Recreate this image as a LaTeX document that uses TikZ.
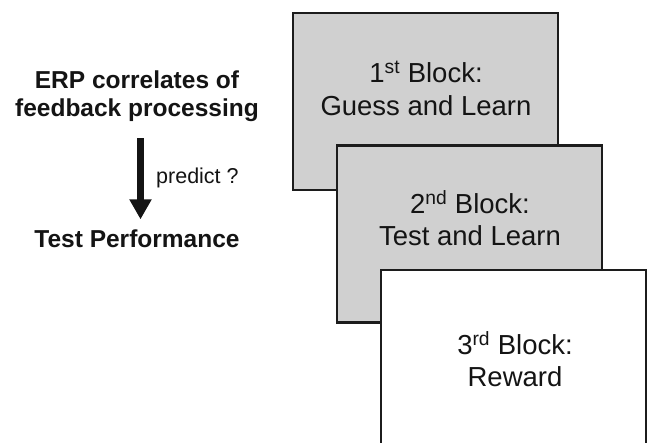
\documentclass[tikz,border=0pt]{standalone}
\usepackage{fontspec}
\setmainfont{Liberation Sans}
\usetikzlibrary{arrows.meta}
\definecolor{blockgray}{RGB}{208,208,208}
\definecolor{edgegray}{RGB}{28,28,28}
\definecolor{inkgray}{RGB}{20,20,20}
\tikzset{
  block/.style={draw=edgegray, line width=2.5pt, minimum width=265pt,
    minimum height=177pt, anchor=north west, inner sep=0pt, outer sep=0pt},
  blocktext/.style={font=\fontsize{27.5}{32.5}\selectfont, align=center,
    text=inkgray, inner sep=0pt},
  headline/.style={font=\bfseries\fontsize{24.5}{28}\selectfont, align=center,
    text=inkgray, inner sep=0pt},
  smalllabel/.style={font=\fontsize{21.5}{24}\selectfont, text=inkgray, inner sep=0pt},
  bigarrow/.style={draw=inkgray, line width=7.5pt,
    -{Triangle[width=21pt,length=20pt]}},
}
\begin{document}
\begin{tikzpicture}[x=1pt,y=-1pt]
  \clip (0,0) rectangle (647,442);
  \fill[white] (0,0) rectangle (647,442);

  % stacked session blocks
  \node[block, fill=blockgray] (b1) at (293,13) {};
  \node[blocktext] (t1) at (426,88.5) {1\textsuperscript{st} Block:\\Guess and Learn};
  \node[block, fill=blockgray] (b2) at (337,145.5) {};
  \node[blocktext] (t2) at (470,218) {2\textsuperscript{nd} Block:\\Test and Learn};
  \node[block, fill=white] (b3) at (381,270) {};
  \node[blocktext] (t3) at (515,359) {3\textsuperscript{rd} Block:\\Reward};

  % hypothesis on the left
  \node[headline] (erp) at (137,96.5) {ERP correlates of\\feedback processing};
  \node[headline, anchor=base] (test) at (137,247.7) {Test Performance};
  \draw[bigarrow, shorten <=16pt, shorten >=10.4pt]
    ([xshift=3.5pt]erp.south) -- ([xshift=3.5pt]test.north);
  \node[smalllabel, anchor=base west] (pred) at (156,183) {predict ?};
\end{tikzpicture}
\end{document}
